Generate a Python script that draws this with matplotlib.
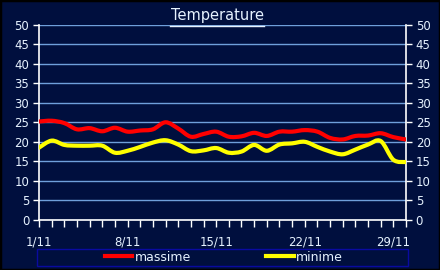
import numpy as np
import matplotlib
matplotlib.use("Agg")
import matplotlib.pyplot as plt
from matplotlib.path import Path
from matplotlib.patches import PathPatch, Rectangle
from matplotlib.lines import Line2D

days = list(range(1, 31))
massime = [25.2, 25.4, 24.8, 23.2, 23.5, 22.7, 23.6, 22.6, 22.9, 23.2,
           25.0, 23.4, 21.3, 22.0, 22.6, 21.3, 21.4, 22.3, 21.5, 22.6,
           22.6, 23.0, 22.6, 21.0, 20.6, 21.5, 21.6, 22.2, 21.2, 20.6]
minime = [18.5, 20.3, 19.2, 19.0, 19.0, 19.0, 17.2, 17.7, 18.7, 19.8,
          20.4, 19.3, 17.6, 17.8, 18.4, 17.2, 17.5, 19.2, 17.7, 19.3,
          19.6, 20.0, 18.7, 17.5, 16.8, 18.0, 19.3, 20.2, 15.4, 14.8]
tick_labels = {1: "1/11", 8: "8/11", 15: "15/11", 22: "22/11", 29: "29/11"}
series_names = ["massime", "minime"]
colors = ["#FF0000", "#FFFF00"]

BG = "#000F3E"
TXT = "#E6F2FF"
GRID = "#6F9FDB"

fig = plt.figure(figsize=(4.4, 2.7), dpi=100, facecolor=BG)
fig.patches.append(Rectangle((0, 0), 1, 1, transform=fig.transFigure,
                             fill=False, edgecolor="black", linewidth=2.5))
ax = fig.add_axes([39/440, 1-219.8/270, (406-39)/440, (219.8-24.8)/270])
ax.set_facecolor(BG)


def smooth_path(x, y):
    x = np.asarray(x, float); y = np.asarray(y, float)
    n = len(x)
    verts = [(x[0], y[0])]
    codes = [Path.MOVETO]
    for i in range(n - 1):
        i0 = max(i - 1, 0); i3 = min(i + 2, n - 1)
        c1 = (x[i] + (x[i+1] - x[i0]) / 6, y[i] + (y[i+1] - y[i0]) / 6)
        c2 = (x[i+1] - (x[i3] - x[i]) / 6, y[i+1] - (y[i3] - y[i]) / 6)
        verts += [c1, c2, (x[i+1], y[i+1])]
        codes += [Path.CURVE4] * 3
    return Path(verts, codes)


for vals, c in zip([massime, minime], colors):
    p = PathPatch(smooth_path(days, vals), fill=False, edgecolor=c,
                  linewidth=3.0, capstyle="round", joinstyle="round", zorder=3)
    ax.add_patch(p)

ax.set_xlim(1, 30)
ax.set_ylim(0, 50)
ax.set_yticks(range(0, 51, 5))
ax.yaxis.grid(True, color=GRID, linewidth=1.0)
ax.set_axisbelow(True)
ax.set_xticks(days)
ax.set_xticklabels([tick_labels.get(d, "") for d in days])
ax.tick_params(axis="x", colors="white", labelcolor=TXT, length=5, width=1,
               direction="out", pad=6, labelsize=8.5)
ax.tick_params(axis="y", colors="white", labelcolor=TXT, length=4, width=1,
               direction="out", labelsize=8.5, left=True, right=True,
               labelleft=True, labelright=True, pad=3)
ax.spines["top"].set_visible(False)
for s in ["left", "right", "bottom"]:
    ax.spines[s].set_color("white")
    ax.spines[s].set_linewidth(1.2)

fig.text(217/440, 1-15.5/270, "Temperature", ha="center", va="center",
         color=TXT, fontsize=10.5)
fig.add_artist(Line2D([170/440, 264/440], [1-25.5/270, 1-25.5/270],
                      color=TXT, linewidth=1.0, transform=fig.transFigure))

# legend frame
fig.patches.append(Rectangle((37/440, 1-265.5/270), (408-37)/440, 16.5/270,
                             transform=fig.transFigure, facecolor=BG,
                             edgecolor="#0A0AA0", linewidth=1.0))
handles = [Line2D([], [], color=c, linewidth=3) for c in colors]
leg = fig.legend(handles, series_names, loc="center",
                 bbox_to_anchor=(224/440, 1-257.3/270),
                 ncol=2, frameon=False, fontsize=9,
                 handlelength=2.2, handletextpad=0.2, borderaxespad=0,
                 borderpad=0.1, columnspacing=6.0)
for txt in leg.get_texts():
    txt.set_color(TXT)

fig.savefig("out.png", dpi=100, facecolor=BG)
